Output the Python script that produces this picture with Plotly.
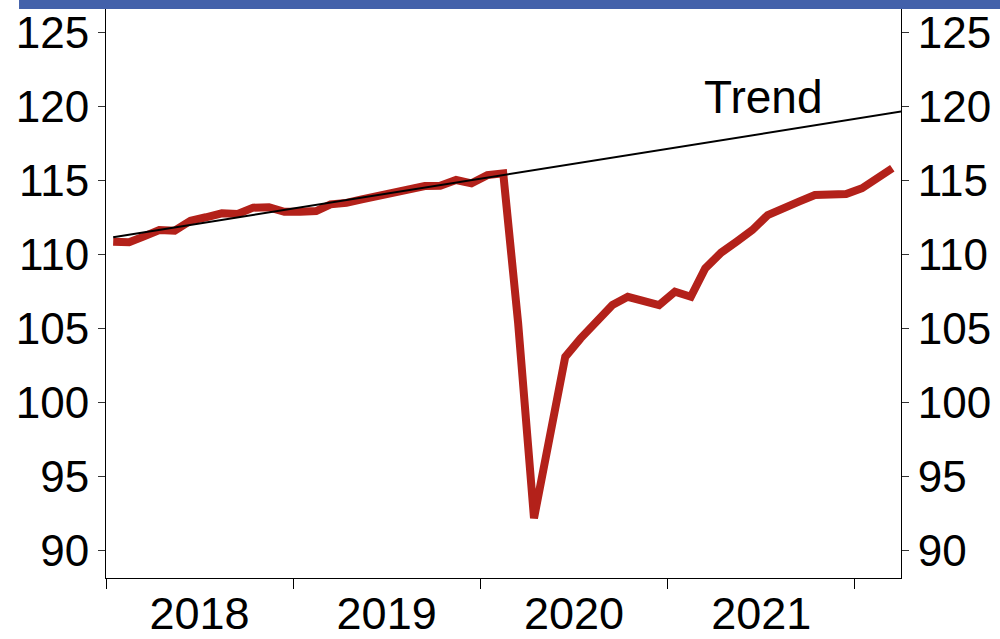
import plotly.graph_objects as go

# Monthly series, Jan 2018 - Mar 2022 (plotted mid-month)
years = [2018, 2019, 2020, 2021, 2022]
months_per_year = [12, 12, 12, 12, 3]
dates = [f"{y}-{m:02d}-15" for y, n in zip(years, months_per_year) for m in range(1, n + 1)]

values_2018 = [110.88, 110.84, 111.22, 111.67, 111.62, 112.3, 112.53, 112.8, 112.75, 113.18, 113.2, 112.9]
values_2019 = [112.9, 112.95, 113.4, 113.5, 113.74, 113.99, 114.19, 114.42, 114.64, 114.66, 115.05, 114.82]
values_2020 = [115.38, 115.5, 105.4, 92.2, 97.6, 103.1, 104.35, 105.47, 106.6, 107.16, 106.9, 106.6]
values_2021 = [107.5, 107.16, 109.08, 110.14, 110.88, 111.67, 112.68, 113.2, 113.6, 114.03, 114.03, 114.1]
values_2022 = [114.49, 115.16, 115.84]
values = values_2018 + values_2019 + values_2020 + values_2021 + values_2022

trend_dates = ["2018-01-15", "2022-04-15"]
trend_values = [111.18, 119.75]

y_ticks = [90, 95, 100, 105, 110, 115, 120, 125]
y_range = [88.16, 126.6]
x_range = ["2018-01-01", "2022-04-01"]

FONT = "Arial, Liberation Sans, sans-serif"

fig = go.Figure()
fig.add_trace(go.Scatter(
    x=dates, y=values, mode="lines",
    line=dict(color="#B3211A", width=8),
    showlegend=False, hoverinfo="skip",
))
fig.add_trace(go.Scatter(
    x=trend_dates, y=trend_values, mode="lines",
    line=dict(color="#000000", width=2),
    showlegend=False, hoverinfo="skip", yaxis="y2",
))

x_font = dict(family=FONT, size=45, color="#000000")
y_font = dict(family=FONT, size=44, color="#000000")

fig.update_layout(
    width=1000, height=639,
    margin=dict(l=106, r=99, t=9, b=61, autoexpand=False),
    paper_bgcolor="white", plot_bgcolor="white",
    font=dict(family=FONT, size=46, color="#000000"),
    xaxis=dict(
        type="date", range=x_range, automargin=False,
        tick0="2018-01-01", dtick="M12",
        ticklabelmode="period", tickformat="%Y",
        ticks="outside", ticklen=10, tickwidth=1, tickcolor="#000000",
        ticklabelstandoff=-14,
        showline=True, linecolor="#000000", linewidth=1,
        showgrid=False, zeroline=False,
        tickfont=x_font,
    ),
    yaxis=dict(
        range=y_range, tickvals=y_ticks, automargin=False,
        ticks="outside", ticklen=7, tickwidth=1, tickcolor="#333333",
        showline=True, linecolor="#000000", linewidth=1,
        showgrid=False, zeroline=False,
        tickfont=y_font,
    ),
    yaxis2=dict(
        range=y_range, tickvals=y_ticks, overlaying="y", side="right",
        automargin=False,
        ticks="outside", ticklen=7, tickwidth=1, tickcolor="#333333",
        showline=True, linecolor="#000000", linewidth=1,
        showgrid=False, zeroline=False,
        tickfont=y_font,
    ),
    shapes=[dict(
        type="rect", xref="paper", yref="paper",
        x0=-0.1094, x1=1.13, y0=1.0, y1=1.02,
        fillcolor="#4361AA", line=dict(width=0), layer="above",
    )],
    annotations=[dict(
        x="2021-07-05", y=120.66, xref="x", yref="y",
        text="Trend", showarrow=False,
        font=dict(family=FONT, size=46, color="#000000"),
    )],
)

fig.write_html(
    "out.html",
    config={"displayModeBar": False, "staticPlot": True},
    post_script="document.body.style.margin='0px';document.body.style.overflow='hidden';",
)
